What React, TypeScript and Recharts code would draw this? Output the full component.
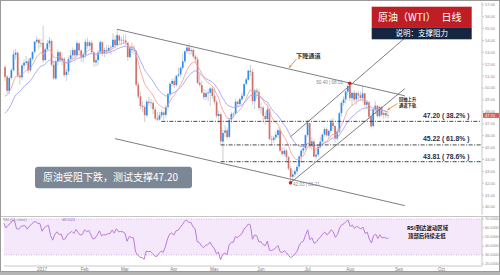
import React from 'react';
import {
  ComposedChart,
  Bar,
  Line,
  XAxis,
  YAxis,
  ReferenceLine,
  ReferenceArea,
  ReferenceDot,
} from 'recharts';

// WTI daily candles [open, high, low, close], 2016-12-06 .. 2017-08-25
const dec16: number[][] = [
  [51.75, 51.95, 50.6, 50.93], [50.95, 51.1, 49.55, 49.77], [49.75, 51.0, 49.5, 50.84],
  [50.85, 51.65, 50.7, 51.5], [51.5, 53.2, 51.4, 52.83], [52.8, 53.3, 52.4, 52.98],
  [52.95, 53.1, 50.9, 51.04], [51.05, 51.3, 50.3, 50.9], [50.9, 52.05, 50.7, 51.9],
  [51.9, 52.4, 51.6, 52.12], [52.1, 52.7, 51.9, 52.23], [52.25, 52.5, 51.2, 51.49],
  [51.5, 52.6, 51.3, 52.49], [52.45, 53.1, 52.3, 53.02], [53.05, 53.95, 52.9, 53.9],
  [53.9, 54.35, 53.7, 54.06], [54.05, 54.2, 53.3, 53.77], [53.75, 54.1, 53.4, 53.72],
];
const jan17: number[][] = [
  [53.8, 55.24, 52.11, 52.33], [52.35, 53.4, 52.2, 53.26], [53.25, 54.05, 53.1, 53.76],
  [53.75, 54.3, 53.4, 53.99], [53.95, 54.1, 51.8, 51.96], [51.95, 52.3, 50.7, 50.82],
  [50.8, 52.4, 50.7, 52.25], [52.25, 53.25, 51.9, 53.01], [53.0, 53.1, 52.2, 52.37],
  [52.35, 53.0, 51.9, 52.48], [52.45, 52.6, 50.9, 51.08], [51.1, 51.6, 50.6, 51.37],
  [51.4, 52.6, 51.1, 52.42], [52.45, 53.2, 52.1, 52.75], [52.75, 53.4, 52.4, 53.18],
  [53.2, 53.3, 52.4, 52.75], [52.75, 54.0, 52.6, 53.78], [53.75, 53.9, 52.9, 53.17],
  [53.15, 53.25, 52.2, 52.63], [52.6, 53.0, 52.15, 52.81],
];
const feb17: number[][] = [
  [52.8, 54.1, 52.5, 53.88], [53.85, 54.2, 53.3, 53.54], [53.55, 54.0, 53.3, 53.83],
  [53.8, 54.0, 52.9, 53.01], [53.0, 53.1, 51.8, 52.17], [52.15, 52.6, 51.8, 52.34],
  [52.35, 53.2, 51.9, 53.0], [53.0, 54.0, 52.9, 53.86], [53.85, 53.95, 52.7, 52.93],
  [52.95, 53.4, 52.6, 53.2], [53.2, 53.6, 52.8, 53.11], [53.1, 53.6, 52.9, 53.36],
  [53.35, 53.6, 52.8, 53.4], [53.45, 54.6, 53.3, 54.06], [54.05, 54.4, 53.4, 53.59],
  [53.6, 54.94, 53.5, 54.45], [54.4, 54.5, 53.7, 53.99], [54.0, 54.3, 53.6, 54.05],
  [54.05, 54.5, 53.7, 54.01],
];
const mar17: number[][] = [
  [54.0, 54.55, 53.6, 53.83], [53.8, 53.9, 52.3, 52.61], [52.6, 53.5, 52.5, 53.33],
  [53.3, 53.8, 52.9, 53.2], [53.2, 53.6, 52.8, 53.14], [53.1, 53.2, 50.1, 50.28],
  [50.3, 50.5, 49.1, 49.28], [49.3, 49.7, 48.2, 48.49], [48.5, 48.9, 48.0, 48.4],
  [48.4, 48.6, 47.15, 47.72], [47.7, 49.0, 47.6, 48.86], [48.85, 49.25, 48.5, 48.75],
  [48.75, 49.1, 48.3, 48.78], [48.75, 48.95, 47.8, 48.22], [48.2, 48.4, 47.3, 47.44],
  [47.45, 48.0, 47.2, 47.34], [47.35, 48.0, 47.25, 47.7], [47.7, 48.2, 47.5, 47.97],
  [47.95, 48.1, 47.3, 47.73], [47.75, 48.6, 47.5, 48.37], [48.4, 49.6, 48.2, 49.51],
  [49.5, 50.5, 49.3, 50.35], [50.35, 50.8, 50.1, 50.6],
];
const apr17: number[][] = [
  [50.6, 50.85, 50.0, 50.24], [50.25, 51.1, 50.1, 51.03], [51.05, 51.7, 50.9, 51.15],
  [51.15, 51.8, 50.9, 51.7], [51.7, 52.9, 51.5, 52.24], [52.25, 53.2, 52.1, 53.08],
  [53.1, 53.6, 52.9, 53.4], [53.4, 53.76, 52.8, 53.11], [53.1, 53.4, 52.8, 53.18],
  [53.2, 53.3, 52.5, 52.65], [52.65, 52.8, 52.1, 52.41], [52.4, 52.6, 50.3, 50.44],
  [50.45, 51.2, 50.1, 50.27], [50.25, 50.6, 49.5, 49.62], [49.6, 49.9, 49.0, 49.23],
  [49.25, 49.8, 49.0, 49.56], [49.55, 49.9, 48.9, 49.62], [49.6, 50.1, 48.5, 49.97],
  [49.95, 50.1, 49.1, 49.33],
];
const may17: number[][] = [
  [49.35, 49.95, 48.6, 48.84], [48.85, 49.0, 47.5, 47.66], [47.65, 48.1, 47.0, 47.82],
  [47.8, 47.95, 45.2, 45.52], [45.5, 46.5, 43.76, 46.22], [46.25, 46.9, 45.9, 46.43],
  [46.45, 46.7, 45.7, 45.88], [45.9, 47.5, 45.8, 47.33], [47.35, 48.0, 47.1, 47.83],
  [47.8, 48.0, 47.5, 47.84], [47.85, 49.1, 47.8, 48.85], [48.85, 49.0, 48.4, 48.66],
  [48.65, 49.2, 48.5, 49.07], [49.05, 49.6, 48.9, 49.35], [49.35, 50.4, 49.2, 50.33],
  [50.35, 50.9, 50.2, 50.73], [50.7, 51.5, 50.6, 51.47], [51.45, 51.95, 51.0, 51.36],
  [51.35, 51.6, 48.6, 48.9], [48.9, 49.95, 48.2, 49.8], [49.8, 50.0, 49.1, 49.66],
  [49.65, 49.9, 48.1, 48.32],
];
const jun17: number[][] = [
  [48.3, 48.8, 47.8, 48.36], [48.35, 48.5, 47.1, 47.66], [47.65, 48.0, 46.9, 47.4],
  [47.4, 48.4, 47.2, 48.19], [48.2, 48.3, 45.6, 45.72], [45.7, 46.0, 45.2, 45.64],
  [45.65, 46.0, 45.4, 45.83], [45.85, 46.4, 45.6, 46.08], [46.05, 46.6, 45.8, 46.46],
  [46.45, 46.7, 44.6, 44.73], [44.7, 45.0, 44.3, 44.46], [44.45, 45.0, 44.3, 44.74],
  [44.75, 44.9, 43.9, 44.2], [44.2, 44.3, 43.1, 43.23], [43.25, 43.5, 42.03, 42.53],
  [42.55, 43.1, 42.2, 42.74], [42.75, 43.2, 42.5, 43.01], [43.0, 43.6, 42.8, 43.38],
  [43.4, 44.4, 43.2, 44.24], [44.25, 44.9, 43.8, 44.74], [44.75, 45.3, 44.5, 44.93],
  [44.95, 46.1, 44.8, 46.04],
];
const jul17: number[][] = [
  [46.05, 47.32, 45.9, 47.07], [47.05, 47.1, 44.9, 45.13], [45.15, 45.9, 44.8, 45.52],
  [45.5, 45.7, 44.2, 44.23], [44.25, 44.8, 44.0, 44.4], [44.4, 45.3, 44.2, 45.04],
  [45.05, 45.9, 44.9, 45.49], [45.5, 46.2, 45.3, 46.08], [46.1, 46.7, 45.9, 46.54],
  [46.55, 46.7, 45.9, 46.02], [46.0, 46.5, 45.7, 46.4], [46.4, 47.4, 46.2, 47.12],
  [47.1, 47.5, 46.4, 46.79], [46.8, 46.9, 45.4, 45.77], [45.75, 46.6, 45.6, 46.34],
  [46.35, 48.0, 46.2, 47.89], [47.9, 48.9, 47.6, 48.75], [48.75, 49.3, 48.5, 49.04],
  [49.05, 49.8, 48.7, 49.71], [49.7, 50.3, 49.4, 50.17],
];
const aug17: number[][] = [
  [50.2, 50.4, 48.9, 49.16], [49.15, 49.7, 48.5, 49.59], [49.6, 49.8, 48.8, 49.03],
  [49.05, 49.7, 48.6, 49.58], [49.55, 49.7, 48.9, 49.39], [49.4, 49.7, 48.9, 49.17],
  [49.15, 50.2, 48.8, 49.56], [49.55, 49.6, 48.4, 48.59], [48.6, 49.0, 48.2, 48.82],
  [48.8, 48.9, 47.4, 47.59], [47.6, 47.9, 46.6, 46.78], [46.8, 48.4, 46.7, 48.2],
  [48.2, 48.9, 47.8, 48.51], [48.5, 48.6, 47.5, 47.64], [47.65, 48.5, 47.5, 48.41],
  [48.4, 48.5, 47.6, 47.75], [47.75, 48.0, 47.4, 47.88], [47.9, 48.05, 47.5, 47.7],
  [47.7, 48.0, 47.45, 47.7],
];
// closes before the first candle, only used to seed the indicators
const warmupCloses = [
  44.89, 44.98, 45.27, 44.66, 43.41, 43.32, 45.81, 45.57, 45.42, 45.69,
  47.49, 48.03, 47.96, 46.06, 47.08, 45.23, 49.44, 51.06, 51.68, 51.79,
];

const monthTicks = [18, 38, 57, 80, 99, 121, 143, 163, 186, 206];
const monthLabels = ['2017', 'Feb', 'Mar', 'Apr', 'May', 'Jun', 'Jul', 'Aug', 'Sep', 'Oct'];
const priceTicks = [40, 41, 42, 43, 44, 45, 46, 47, 48, 49, 50, 51, 52, 53, 54, 55, 56, 57];
const rsiTicks = [20, 30, 40, 50, 60, 70];
const slotCount = 226;

const candles = [...dec16, ...jan17, ...feb17, ...mar17, ...apr17, ...may17, ...jun17, ...jul17, ...aug17];
const allCloses = [...warmupCloses, ...candles.map((k) => k[3])];
const skip = warmupCloses.length;

const ema = (period: number) => {
  const k = 2 / (period + 1);
  let e = allCloses[0];
  return allCloses.map((c, i) => (e = i === 0 ? c : c * k + e * (1 - k))).slice(skip);
};
const ema10 = ema(10);
const ema20 = ema(20);

const rsi14 = (() => {
  const out: (number | null)[] = [null];
  let ag = 0;
  let al = 0;
  for (let i = 1; i < allCloses.length; i++) {
    const d = allCloses[i] - allCloses[i - 1];
    const g = Math.max(d, 0);
    const l = Math.max(-d, 0);
    if (i <= 14) {
      ag += g / 14;
      al += l / 14;
    } else {
      ag = (ag * 13 + g) / 14;
      al = (al * 13 + l) / 14;
    }
    out.push(i < 14 ? null : 100 - 100 / (1 + ag / (al || 1e-9)));
  }
  return out.slice(skip);
})();

const rows = Array.from({ length: slotCount }, (_, i) => {
  const k = candles[i];
  if (!k) return { i };
  return { i, range: [k[2], k[1]], o: k[0], h: k[1], l: k[2], c: k[3], ema10: ema10[i], ema20: ema20[i], rsi: rsi14[i] };
});
const lastClose = candles[candles.length - 1][3];
const lastRsi = rsi14[rsi14.length - 1] as number;

const UP = '#2f8cf0';
const DOWN = '#d2706a';
const FONT = '"Liberation Sans", Arial, sans-serif';
const CJK = '"Noto Sans CJK SC", sans-serif';

const Candle = (props: any) => {
  const { x, y, width, height, payload } = props;
  if (!payload || payload.c == null) return null;
  const { o, h, l, c } = payload;
  const top = Math.min(y, y + height);
  const hh = Math.abs(height);
  const span = h - l || 1;
  const toY = (p: number) => top + ((h - p) / span) * hh;
  const cx = x + width / 2;
  const b1 = toY(Math.max(o, c));
  const b2 = toY(Math.min(o, c));
  return (
    <g>
      <line x1={cx} x2={cx} y1={top} y2={top + hh} stroke="#c2c2c2" strokeWidth={0.8} />
      <rect x={cx - 0.85} width={1.7} y={b1} height={Math.max(b2 - b1, 0.6)} fill={c >= o ? UP : DOWN} />
    </g>
  );
};

const MonthTick = ({ x, y, payload }: any) => {
  const k = monthTicks.indexOf(payload.value);
  if (k < 0) return null;
  return (
    <text x={x} y={y + 3.4} textAnchor="middle" fontSize={4.5} fill="#7a7a7a" fontFamily={FONT}>
      {monthLabels[k]}
    </text>
  );
};

const PriceTag = ({ viewBox }: any) => {
  if (!viewBox) return null;
  const x = viewBox.x + viewBox.width + 1;
  return (
    <g>
      <rect x={x} y={viewBox.y - 2.5} width={16} height={5} fill="#e05a5a" />
      <text x={x + 2} y={viewBox.y + 1.5} fontSize={4} fill="#fff" fontFamily={FONT}>
        {lastClose.toFixed(2)}
      </text>
    </g>
  );
};

const channel = { stroke: '#6f6f6f', strokeWidth: 0.9, ifOverflow: 'visible' as const };
const fib = { stroke: '#333', strokeWidth: 0.9, strokeDasharray: '4 1.5 1 1.5', ifOverflow: 'visible' as const };

const Arrow = ({ x1, y1, x2, y2 }: { x1: number; y1: number; x2: number; y2: number }) => {
  const a = Math.atan2(y2 - y1, x2 - x1);
  const s = 3;
  const p1 = [x2 - s * Math.cos(a - 0.5), y2 - s * Math.sin(a - 0.5)];
  const p2 = [x2 - s * Math.cos(a + 0.5), y2 - s * Math.sin(a + 0.5)];
  return (
    <g>
      <line x1={x1} y1={y1} x2={x2} y2={y2} stroke="#f0962e" strokeWidth={1} />
      <polygon points={`${x2},${y2} ${p1[0]},${p1[1]} ${p2[0]},${p2[1]}`} fill="#f0962e" />
    </g>
  );
};

export default function App() {
  return (
    <div style={{ position: 'absolute', left: 0, top: 0, width: 500, height: 275, background: '#fff', overflow: 'hidden' }}>
      <div style={{ position: 'absolute', left: 0, top: 0 }}>
        <ComposedChart width={500} height={216} data={rows} margin={{ top: 2, right: 0, bottom: 1, left: 3.8 }}>
          <XAxis dataKey="i" type="category" hide />
          <YAxis
            orientation="right"
            width={18}
            domain={[39.33, 57.23]}
            allowDataOverflow
            ticks={priceTicks}
            interval={0}
            tickFormatter={(v: number) => v.toFixed(2)}
            tick={{ fontSize: 4, fill: '#8a8a8a', fontFamily: FONT }}
            tickSize={2}
            tickMargin={1}
            stroke="#c8c8c8"
          />
          <Bar dataKey="range" shape={<Candle />} isAnimationActive={false} />
          <Line dataKey="ema10" stroke="#f4a3a3" strokeWidth={0.9} dot={false} isAnimationActive={false} />
          <Line dataKey="ema20" stroke="#a3a3f2" strokeWidth={0.9} dot={false} isAnimationActive={false} />
          <ReferenceLine segment={[{ x: 53, y: 54.94 }, { x: 189, y: 49.35 }]} {...channel} />
          <ReferenceLine segment={[{ x: 52, y: 45.75 }, { x: 189, y: 40.12 }]} {...channel} />
          <ReferenceLine segment={[{ x: 135, y: 42.03 }, { x: 189, y: 49.95 }]} {...channel} />
          <ReferenceLine segment={[{ x: 135, y: 45.9 }, { x: 189, y: 54.2 }]} {...channel} />
          <ReferenceLine segment={[{ x: 74, y: 47.2 }, { x: 225, y: 47.2 }]} {...fib} />
          <ReferenceLine segment={[{ x: 102, y: 45.22 }, { x: 225, y: 45.22 }]} {...fib} />
          <ReferenceLine segment={[{ x: 102, y: 43.81 }, { x: 225, y: 43.81 }]} {...fib} />
          <ReferenceDot x={163} y={50.4} r={1.8} fill="#c62828" stroke="none" />
          <ReferenceDot x={135} y={42.03} r={1.8} fill="#c62828" stroke="none" />
          <ReferenceLine y={lastClose} stroke="none" label={<PriceTag />} ifOverflow="visible" />
        </ComposedChart>
      </div>
      <div style={{ position: 'absolute', left: 0, top: 215.5, width: 500, height: 1, background: '#c4c4c4' }} />
      <div style={{ position: 'absolute', left: 0, top: 216 }}>
        <ComposedChart width={500} height={59} data={rows} margin={{ top: 0, right: 0, bottom: 0, left: 3.8 }}>
          <XAxis
            dataKey="i"
            type="category"
            ticks={monthTicks}
            interval={0}
            tick={<MonthTick />}
            tickLine={false}
            tickSize={0}
            height={9}
            stroke="#c8c8c8"
          />
          <YAxis
            orientation="right"
            width={18}
            domain={[17.8, 73.3]}
            allowDataOverflow
            ticks={rsiTicks}
            interval={0}
            tickFormatter={(v: number) => v.toFixed(4)}
            tick={{ fontSize: 3.8, fill: '#8a8a8a', fontFamily: FONT }}
            tickSize={2}
            tickMargin={1}
            stroke="#c8c8c8"
          />
          <ReferenceArea y1={30} y2={70} fill="#f6e8fb" fillOpacity={1} stroke="none" ifOverflow="visible" />
          <ReferenceLine y={70} stroke="#c8a6d8" strokeDasharray="1 1.5" strokeWidth={0.8} />
          <ReferenceLine y={30} stroke="#c8a6d8" strokeDasharray="1 1.5" strokeWidth={0.8} />
          <Line dataKey="rsi" stroke="#b77cdc" strokeWidth={1} dot={false} isAnimationActive={false} />
        </ComposedChart>
      </div>

      <svg width={500} height={275} style={{ position: 'absolute', left: 0, top: 0, pointerEvents: 'none' }}>
        <rect x={371.7} y={6.7} width={100} height={20.6} fill="#bf1e24" />
        <text x={378} y={20.6} fontSize={10} fill="#fff" fontFamily={CJK}>原油（WTI）</text>
        <text x={441.5} y={20.6} fontSize={10} fill="#fff" fontFamily={CJK}>日线</text>
        <rect x={371.7} y={27.3} width={100} height={12} fill="#162640" />
        <text x={421.7} y={36} fontSize={7.5} fill="#fff" textAnchor="middle" fontFamily={CJK}>说明：支撑阻力</text>

        <text x={296} y={57.5} fontSize={6.2} fill="#333" fontWeight={600} fontFamily={CJK}>下降通道</text>
        <Arrow x1={296.5} y1={59} x2={289} y2={67.8} />
        <text x={343} y={84} fontSize={4.6} fill="#8a8a8a" textAnchor="end" fontFamily={FONT}>50.40 | 08.01</text>
        <text x={293} y={185.8} fontSize={4.6} fill="#8a8a8a" fontFamily={FONT}>42.03 | 06.21</text>

        <text x={399} y={100.5} fontSize={4.3} fill="#222" fontWeight={700} fontFamily={CJK}>回抽上升</text>
        <text x={399} y={107} fontSize={4.3} fill="#222" fontWeight={700} fontFamily={CJK}>通道下轨</text>
        <Arrow x1={397.5} y1={103.5} x2={387.5} y2={109.8} />

        <text x={423} y={118.3} fontSize={6.8} fill="#1f2d4a" fontWeight={700} fontFamily={FONT}>47.20 ( 38.2% )</text>
        <text x={423} y={140.8} fontSize={6.8} fill="#1f2d4a" fontWeight={700} fontFamily={FONT}>45.22 ( 61.8% )</text>
        <text x={423} y={159.2} fontSize={6.8} fill="#1f2d4a" fontWeight={700} fontFamily={FONT}>43.81 ( 78.6% )</text>

        <rect x={35} y={166.7} width={157} height={21.6} rx={3} fill="#7b8794" />
        <text x={43} y={181.3} fontSize={10} fill="#fff" fontFamily={CJK}>原油受阻下跌，测试支撑47.20</text>

        <text x={3} y={221} fontSize={3.6} fill="#8a8a8a" fontFamily={FONT}>RSI (14, close)</text>
        <text x={62} y={221} fontSize={3.6} fill="#a05cc8" fontFamily={FONT}>{lastRsi.toFixed(4)}</text>
        <text x={407} y={230.3} fontSize={5.4} fill="#111" fontWeight={700} fontFamily={CJK}>RSI到达波动区域</text>
        <text x={408} y={237.8} fontSize={5.4} fill="#111" fontWeight={700} fontFamily={CJK}>顶部后持续走低</text>
      </svg>

      <div style={{ position: 'absolute', left: 0, top: 0, width: 500, height: 272, border: '1px solid #9a9a9a', boxSizing: 'border-box', pointerEvents: 'none' }} />
      <div style={{ position: 'absolute', left: 0, top: 272, width: 500, height: 3, background: '#b4b4b4' }} />
    </div>
  );
}
